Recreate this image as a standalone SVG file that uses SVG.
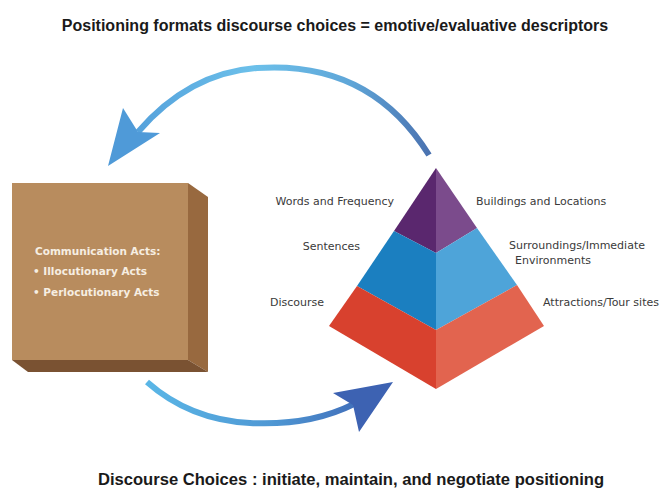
<svg xmlns="http://www.w3.org/2000/svg" width="667" height="489" viewBox="0 0 667 489">
  <defs>
    <style>
      .title { font-family: "Liberation Sans", Arial, sans-serif; font-weight: bold; font-size: 16px; fill: #1a1a1a; }
      .footer { font-size: 16.6px; }
      .lbl { font-family: "DejaVu Sans", "Liberation Sans", sans-serif; font-size: 11px; fill: #3a3a3a; }
      .box-txt { font-family: "DejaVu Sans", "Liberation Sans", sans-serif; font-weight: bold; font-size: 10.5px; fill: #f6eee2; }
    </style>
    <linearGradient id="gradTop" gradientUnits="userSpaceOnUse" x1="108" y1="0" x2="430" y2="0">
      <stop offset="0" stop-color="#4f9ad8"/>
      <stop offset="0.45" stop-color="#6cc0ea"/>
      <stop offset="0.75" stop-color="#5fa6d8"/>
      <stop offset="1" stop-color="#4a72b0"/>
    </linearGradient>
    <linearGradient id="gradBottom" gradientUnits="userSpaceOnUse" x1="147" y1="0" x2="393" y2="0">
      <stop offset="0" stop-color="#5ab6e6"/>
      <stop offset="0.5" stop-color="#4f98d4"/>
      <stop offset="1" stop-color="#3b5fb0"/>
    </linearGradient>
  </defs>

  <rect width="667" height="489" fill="#ffffff"/>

  <!-- headline and footer -->
  <text class="title" x="335" y="31" text-anchor="middle">Positioning formats discourse choices = emotive/evaluative descriptors</text>
  <text class="title footer" x="351" y="485" text-anchor="middle">Discourse Choices : initiate, maintain, and negotiate positioning</text>

  <!-- cycle arrows -->
  <g id="connectors">
    <g id="arrow-top">
      <path d="M429,155 Q370,60 257,68 Q189,73 138,132" fill="none" stroke="url(#gradTop)" stroke-width="6"/>
      <polygon points="108,166 123,108 138,132 160,133" fill="#4f9ad8"/>
    </g>
    <g id="arrow-bottom">
      <path d="M147,382 Q190,420 250,423 Q310,426 354,404" fill="none" stroke="url(#gradBottom)" stroke-width="6"/>
      <polygon points="393,382 333,393 353,405 359,432" fill="#3d62b2"/>
    </g>
  </g>

  <!-- communication acts block -->
  <g id="box">
    <polygon points="188,183 208,197 208,372 188,360" fill="#98693f"/>
    <polygon points="12,360 188,360 208,372 28,372" fill="#7a5232"/>
    <rect x="12" y="183" width="176" height="177" fill="#b88c5e"/>
    <text class="box-txt" x="35" y="255">Communication Acts:</text>
    <text class="box-txt" x="33" y="275">• Illocutionary Acts</text>
    <text class="box-txt" x="33" y="296">• Perlocutionary Acts</text>
  </g>

  <!-- three-tier pyramid -->
  <g id="pyramid">
    <polygon points="436,168 394,231 436,253" fill="#5a276e"/>
    <polygon points="436,168 477,228 436,253" fill="#7b4b8c"/>
    <polygon points="394,231 436,253 436,330 357,286" fill="#1b7fc0"/>
    <polygon points="477,228 436,253 436,330 517,285" fill="#4ea4d9"/>
    <polygon points="357,286 436,330 436,389 329,326" fill="#d8412e"/>
    <polygon points="517,285 436,330 436,389 544,326" fill="#e2644f"/>
  </g>

  <g id="labels-left">
    <text class="lbl" x="394" y="205" text-anchor="end">Words and Frequency</text>
    <text class="lbl" x="360" y="250" text-anchor="end">Sentences</text>
    <text class="lbl" x="270" y="306">Discourse</text>
  </g>
  <g id="labels-right">
    <text class="lbl" x="476" y="205">Buildings and Locations</text>
    <text class="lbl" x="509" y="249">Surroundings/Immediate</text>
    <text class="lbl" x="515" y="264">Environments</text>
    <text class="lbl" x="543" y="306">Attractions/Tour sites</text>
  </g>
</svg>
